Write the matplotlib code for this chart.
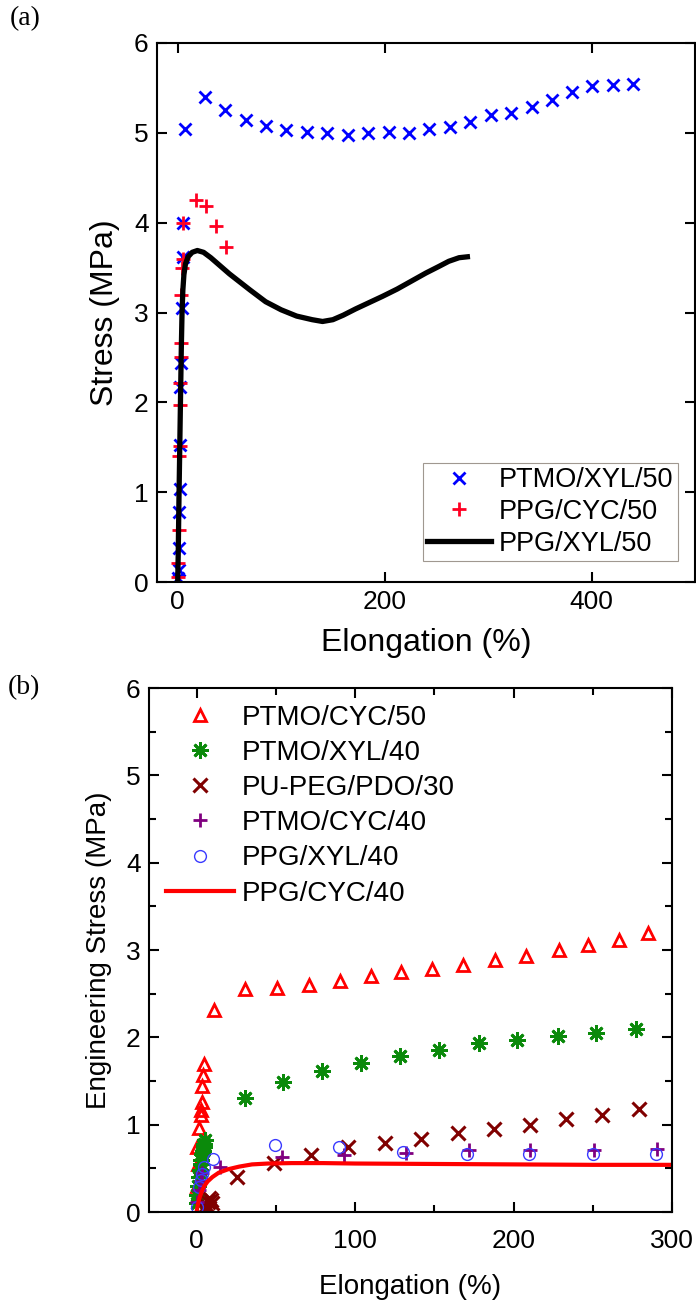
import matplotlib
matplotlib.use("Agg")
import matplotlib.pyplot as plt
import numpy as np

# ── panel (a) data ───────────────────────────────────────────────────────────
ptmo_xyl50_x = [0.3, 0.8, 1.3, 1.7, 2.0, 2.4, 2.6, 3.5, 4.2, 5.2, 5.0,
                7.3, 26.3, 46, 65.7, 85.5, 104.8, 124.6, 144.6, 164.4, 184, 204,
                224, 243, 263, 283, 303, 322, 342, 361.6, 381, 400.7, 420.4, 440.5]
ptmo_xyl50_y = [0.04, 0.13, 0.375, 0.78, 1.04, 1.53, 2.17, 2.44, 3.05, 3.62, 4.0,
                5.04, 5.40, 5.25, 5.14, 5.08, 5.03, 5.01, 5.00, 4.98, 5.00, 5.01,
                5.00, 5.04, 5.06, 5.12, 5.20, 5.22, 5.29, 5.36, 5.46, 5.52, 5.53, 5.54]

ppg_cyc50_x = [0.2, 0.6, 1.0, 1.5, 1.8, 2.2, 2.6, 2.9, 3.2, 3.6, 4.2, 5.2, 5.5,
               17.4, 27.7, 37.4, 47.0]
ppg_cyc50_y = [0.06, 0.21, 0.58, 1.40, 1.51, 1.97, 2.21, 2.51, 2.66, 3.20, 3.50, 3.60, 4.0,
               4.25, 4.18, 3.96, 3.73]

ppg_xyl50_x = [0, 0.5, 1.2, 2.0, 2.8, 3.5, 4.2, 5.0, 6.0, 7.5, 10, 14, 19, 25, 32, 40,
               50, 60, 70, 85, 100, 115, 130, 140, 150, 160, 172, 185, 198, 212,
               226, 240, 252, 262, 272, 280]
ppg_xyl50_y = [0, 0.3, 0.9, 1.5, 2.1, 2.6, 3.0, 3.25, 3.42, 3.54, 3.62, 3.67, 3.69, 3.67,
               3.61, 3.53, 3.43, 3.34, 3.25, 3.12, 3.03, 2.96, 2.92, 2.90, 2.92, 2.97,
               3.04, 3.11, 3.18, 3.26, 3.35, 3.44, 3.51, 3.57, 3.61, 3.62]

# ── panel (b) data ───────────────────────────────────────────────────────────
ptmo_cyc50_x = [0.3, 0.8, 0.5, 1.5, 2.6, 3.0, 3.2, 3.6, 4.0, 4.6,
                10.9, 30.3, 50.5, 70.7, 90.8, 110, 129, 148.6, 168, 188.6,
                208, 228.4, 247.3, 266.8, 285]
ptmo_cyc50_y = [0.3, 0.55, 0.75, 0.96, 1.11, 1.17, 1.26, 1.44, 1.57, 1.70,
                2.31, 2.55, 2.57, 2.60, 2.65, 2.70, 2.75, 2.78, 2.83, 2.89,
                2.93, 3.00, 3.06, 3.12, 3.19]

ptmo_xyl40_x = [0.3, 0.6, 1.0, 1.5, 2.0, 2.5, 3.0, 3.5, 4.0, 4.5, 5.0, 5.5,
                30.3, 54.7, 79.3, 103.9, 128.3, 153, 178, 202.5, 227.8, 252, 277.6]
ptmo_xyl40_y = [0.1, 0.2, 0.30, 0.40, 0.48, 0.55, 0.60, 0.66, 0.70, 0.74, 0.78, 0.82,
                1.31, 1.49, 1.62, 1.71, 1.79, 1.85, 1.93, 1.97, 2.01, 2.05, 2.09]

pu_peg_x = [5, 6, 7, 8, 9, 10, 8,
            25.7, 48.8, 72.4, 95.5, 118.6, 141.8, 164.9, 188, 210.7, 233.4, 256, 279]
pu_peg_y = [0.04, 0.08, 0.12, 0.16, 0.14, 0.10, 0.05,
            0.40, 0.56, 0.65, 0.74, 0.79, 0.84, 0.90, 0.95, 1.00, 1.06, 1.11, 1.18]

ptmo_cyc40_x = [0.5, 1.5, 2.5, 3.5, 14.5, 54, 93, 132, 171.8, 210.7, 250.7, 290.6]
ptmo_cyc40_y = [0.12, 0.25, 0.35, 0.45, 0.52, 0.63, 0.65, 0.67, 0.71, 0.71, 0.71, 0.72]

ppg_xyl40_x = [0.4, 1.5, 2.5, 3.6, 4.6, 10.5, 49.8, 89.8, 130, 170.8, 210, 250, 290]
ppg_xyl40_y = [0.06, 0.29, 0.37, 0.44, 0.52, 0.61, 0.77, 0.74, 0.69, 0.66, 0.66, 0.66, 0.66]

ppg_cyc40_x = [0, 0.5, 1, 2, 3, 5, 7, 10, 14, 20, 27, 35, 45, 60, 80, 100, 150, 200, 250, 300]
ppg_cyc40_y = [0, 0.05, 0.10, 0.17, 0.22, 0.30, 0.35, 0.40, 0.45, 0.49, 0.52, 0.545,
               0.555, 0.56, 0.56, 0.555, 0.55, 0.545, 0.54, 0.54]

# ── style ────────────────────────────────────────────────────────────────────
plt.rcParams["font.family"] = ["Liberation Sans", "DejaVu Sans"]
plt.rcParams["axes.linewidth"] = 1.5


def style_axes(ax, xpad=6):
    ax.tick_params(which="both", direction="in", top=True, right=True,
                   width=1.5, labelsize=19, pad=6)
    ax.tick_params(axis="x", which="both", pad=xpad)
    ax.tick_params(which="major", length=7)
    ax.tick_params(which="minor", length=5)


fig = plt.figure(figsize=(6.96, 13.01), dpi=100)

# ── (a) ──────────────────────────────────────────────────────────────────────
ax1 = fig.add_axes([157 / 696, 1 - 582 / 1301, 538 / 696, 539 / 1301])
ax1.plot(ptmo_xyl50_x, ptmo_xyl50_y, ls="none", marker="x", ms=9, mew=2,
         color="#0000ff", label="PTMO/XYL/50")
ax1.plot(ppg_cyc50_x, ppg_cyc50_y, ls="none", marker="+", ms=10, mew=2,
         color="#ff0022", label="PPG/CYC/50")
ax1.plot(ppg_xyl50_x, ppg_xyl50_y, color="black", lw=3.8, label="PPG/XYL/50")
ax1.set_xlim(-20, 500)
ax1.set_ylim(0, 6)
ax1.set_xticks([0, 200, 400])
ax1.set_yticks(range(7))
style_axes(ax1)
ax1.set_xlabel("Elongation (%)", fontsize=23, labelpad=10)
ax1.set_ylabel("Stress (MPa)", fontsize=23, labelpad=10)
leg1 = ax1.legend(loc="lower right", bbox_to_anchor=(0.968, 0.039), fontsize=19.5,
                  numpoints=1, handlelength=2.35, handletextpad=0.3,
                  labelspacing=0.22, borderpad=0.15, borderaxespad=0,
                  fancybox=False, framealpha=1)
leg1.get_frame().set_edgecolor("#a09890")
leg1.get_frame().set_linewidth(0.8)
fig.text(10 / 696, 1 - 19 / 1301, "(a)", family="Liberation Serif", fontsize=20,
         va="center", ha="left")

# ── (b) ──────────────────────────────────────────────────────────────────────
ax2 = fig.add_axes([149 / 696, 1 - 1212 / 1301, 523 / 696, 524 / 1301])
ax2.plot(ptmo_cyc50_x, ptmo_cyc50_y, ls="none", marker="^", ms=9, mew=2,
         mfc="none", color="#ff0000", label="PTMO/CYC/50")
ax2.plot(ptmo_xyl40_x, ptmo_xyl40_y, ls="none", marker=(8, 2, 0), ms=12, mew=2,
         color="#0b8a0b", label="PTMO/XYL/40")
ax2.plot(pu_peg_x, pu_peg_y, ls="none", marker="x", ms=10, mew=2.2,
         color="#800000", label="PU-PEG/PDO/30")
ax2.plot(ptmo_cyc40_x, ptmo_cyc40_y, ls="none", marker="+", ms=10, mew=2,
         color="#800080", label="PTMO/CYC/40")
ax2.plot(ppg_xyl40_x, ppg_xyl40_y, ls="none", marker="o", ms=8.5, mew=1,
         mfc="none", color="#3a3aff", label="PPG/XYL/40")
ax2.plot(ppg_cyc40_x, ppg_cyc40_y, color="#ff0000", lw=3, label="PPG/CYC/40")
ax2.set_xlim(-30, 300)
ax2.set_ylim(0, 6)
ax2.set_xticks([0, 100, 200, 300])
ax2.set_xticks(np.arange(0, 301, 50), minor=True)
ax2.set_yticks(range(7))
ax2.set_yticks(np.arange(0, 6.01, 0.5), minor=True)
style_axes(ax2, xpad=12.5)
ax2.set_xlabel("Elongation (%)", fontsize=20, labelpad=15)
ax2.set_ylabel("Engineering Stress (MPa)", fontsize=20, labelpad=10)
ax2.legend(loc="upper left", bbox_to_anchor=(0.0, 1.0), fontsize=20,
           numpoints=1, handlelength=2.45, handletextpad=0.3,
           labelspacing=0.33, borderpad=0.3, borderaxespad=0.3, frameon=False)
fig.text(8 / 696, 1 - 688 / 1301, "(b)", family="Liberation Serif", fontsize=20,
         va="center", ha="left")

fig.savefig("out.png", dpi=100)
